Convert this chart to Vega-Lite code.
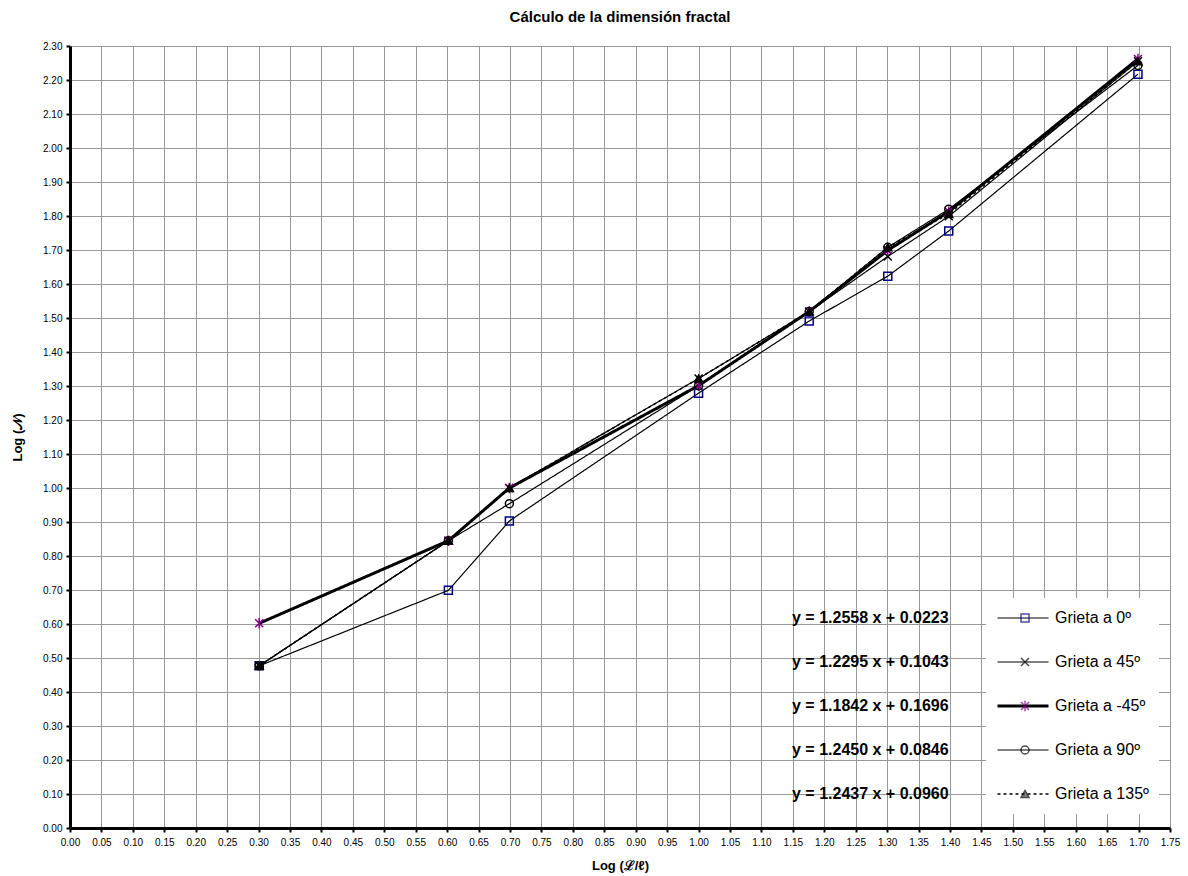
{
  "$schema": "https://vega.github.io/schema/vega-lite/v6.json",
  "width": 1100,
  "height": 782,
  "autosize": "none",
  "padding": {"left": 70, "top": 46, "right": 18, "bottom": 48},
  "background": "white",
  "title": {"text": "Cálculo de la dimensión fractal", "font": "Liberation Sans", "fontSize": 15, "fontWeight": "bold", "color": "black", "anchor": "middle", "offset": 1, "baseline": "bottom"},
  "config": {
    "view": {"stroke": "#999999", "strokeWidth": 1},
    "font": "Liberation Sans",
    "axis": {"labelFont": "Liberation Sans", "labelFontSize": 10, "labelColor": "black", "domainColor": "black", "domainWidth": 3, "tickColor": "black", "tickWidth": 2, "tickSize": 4, "gridColor": "#999999", "gridWidth": 1, "titleFont": "Liberation Sans", "titleFontSize": 13, "titleFontWeight": "bold", "titleColor": "black", "labelOverlap": false, "labelFlush": false}
  },
  "data": {"values": [
    {"serie": "Grieta a 0º", "orden": 1, "x": 0.301, "y": 0.477},
    {"serie": "Grieta a 0º", "orden": 1, "x": 0.602, "y": 0.699},
    {"serie": "Grieta a 0º", "orden": 1, "x": 0.699, "y": 0.903},
    {"serie": "Grieta a 0º", "orden": 1, "x": 1.0, "y": 1.279},
    {"serie": "Grieta a 0º", "orden": 1, "x": 1.176, "y": 1.491},
    {"serie": "Grieta a 0º", "orden": 1, "x": 1.301, "y": 1.623},
    {"serie": "Grieta a 0º", "orden": 1, "x": 1.398, "y": 1.756},
    {"serie": "Grieta a 0º", "orden": 1, "x": 1.699, "y": 2.217},
    {"serie": "Grieta a 45º", "orden": 2, "x": 0.301, "y": 0.477},
    {"serie": "Grieta a 45º", "orden": 2, "x": 0.602, "y": 0.845},
    {"serie": "Grieta a 45º", "orden": 2, "x": 0.699, "y": 1.0},
    {"serie": "Grieta a 45º", "orden": 2, "x": 1.0, "y": 1.322},
    {"serie": "Grieta a 45º", "orden": 2, "x": 1.176, "y": 1.519},
    {"serie": "Grieta a 45º", "orden": 2, "x": 1.301, "y": 1.681},
    {"serie": "Grieta a 45º", "orden": 2, "x": 1.398, "y": 1.799},
    {"serie": "Grieta a 45º", "orden": 2, "x": 1.699, "y": 2.255},
    {"serie": "Grieta a -45º", "orden": 3, "x": 0.301, "y": 0.602},
    {"serie": "Grieta a -45º", "orden": 3, "x": 0.602, "y": 0.845},
    {"serie": "Grieta a -45º", "orden": 3, "x": 0.699, "y": 1.0},
    {"serie": "Grieta a -45º", "orden": 3, "x": 1.0, "y": 1.301},
    {"serie": "Grieta a -45º", "orden": 3, "x": 1.176, "y": 1.519},
    {"serie": "Grieta a -45º", "orden": 3, "x": 1.301, "y": 1.699},
    {"serie": "Grieta a -45º", "orden": 3, "x": 1.398, "y": 1.813},
    {"serie": "Grieta a -45º", "orden": 3, "x": 1.699, "y": 2.262},
    {"serie": "Grieta a 90º", "orden": 4, "x": 0.301, "y": 0.477},
    {"serie": "Grieta a 90º", "orden": 4, "x": 0.602, "y": 0.845},
    {"serie": "Grieta a 90º", "orden": 4, "x": 0.699, "y": 0.954},
    {"serie": "Grieta a 90º", "orden": 4, "x": 1.0, "y": 1.301},
    {"serie": "Grieta a 90º", "orden": 4, "x": 1.176, "y": 1.519},
    {"serie": "Grieta a 90º", "orden": 4, "x": 1.301, "y": 1.708},
    {"serie": "Grieta a 90º", "orden": 4, "x": 1.398, "y": 1.820},
    {"serie": "Grieta a 90º", "orden": 4, "x": 1.699, "y": 2.243},
    {"serie": "Grieta a 135º", "orden": 5, "x": 0.301, "y": 0.477},
    {"serie": "Grieta a 135º", "orden": 5, "x": 0.602, "y": 0.845},
    {"serie": "Grieta a 135º", "orden": 5, "x": 0.699, "y": 1.0},
    {"serie": "Grieta a 135º", "orden": 5, "x": 1.0, "y": 1.322},
    {"serie": "Grieta a 135º", "orden": 5, "x": 1.176, "y": 1.519},
    {"serie": "Grieta a 135º", "orden": 5, "x": 1.301, "y": 1.708},
    {"serie": "Grieta a 135º", "orden": 5, "x": 1.398, "y": 1.806},
    {"serie": "Grieta a 135º", "orden": 5, "x": 1.699, "y": 2.255}
  ]},
  "encoding": {
    "x": {"field": "x", "type": "quantitative", "scale": {"domain": [0, 1.75], "nice": false, "zero": false},
          "axis": {"title": "Log (ℒ/ℓ)", "values": [0,0.05,0.1,0.15,0.2,0.25,0.3,0.35,0.4,0.45,0.5,0.55,0.6,0.65,0.7,0.75,0.8,0.85,0.9,0.95,1,1.05,1.1,1.15,1.2,1.25,1.3,1.35,1.4,1.45,1.5,1.55,1.6,1.65,1.7,1.75], "format": ".2f", "labelPadding": 5, "titlePadding": 12}},
    "y": {"field": "y", "type": "quantitative", "scale": {"domain": [0, 2.3], "nice": false, "zero": false},
          "axis": {"title": "Log (𝒩)", "values": [0,0.1,0.2,0.3,0.4,0.5,0.6,0.7,0.8,0.9,1,1.1,1.2,1.3,1.4,1.5,1.6,1.7,1.8,1.9,2,2.1,2.2,2.3], "format": ".2f", "labelPadding": 4, "titlePadding": 18}}
  },
  "layer": [
    {
      "mark": {"type": "line", "color": "black"},
      "encoding": {
        "strokeDash": {"field": "serie", "type": "nominal",
          "scale": {"domain": ["Grieta a 0º", "Grieta a 45º", "Grieta a -45º", "Grieta a 90º", "Grieta a 135º"], "range": [[1,0],[1,0],[1,0],[1,0],[3,3]]},
          "legend": {"title": null, "orient": "none", "legendX": 916, "legendY": 552, "padding": 10, "fillColor": "white", "symbolType": "stroke", "symbolSize": 2601, "symbolStrokeColor": "black", "symbolOpacity": 1, "clipHeight": 20, "rowPadding": 24, "labelFont": "Liberation Sans", "labelFontSize": 16, "labelColor": "black", "labelOffset": 5, "labelLimit": 300, "zindex": 1}},
        "strokeWidth": {"field": "serie", "type": "nominal",
          "scale": {"type": "ordinal", "domain": ["Grieta a 0º", "Grieta a 45º", "Grieta a -45º", "Grieta a 90º", "Grieta a 135º"], "range": [1.2, 1.2, 3, 1.2, 1.5]},
          "legend": {"title": null, "orient": "none", "legendX": 916, "legendY": 552, "padding": 10, "fillColor": "white", "symbolType": "stroke", "symbolSize": 2601, "symbolStrokeColor": "black", "symbolOpacity": 1, "clipHeight": 20, "rowPadding": 24, "labelFont": "Liberation Sans", "labelFontSize": 16, "labelColor": "black", "labelOffset": 5, "labelLimit": 300, "zindex": 1}}
      }
    },
    {
      "mark": {"type": "point", "filled": false, "size": 64, "strokeWidth": 1.5},
      "encoding": {
        "shape": {"field": "serie", "type": "nominal", "sort": {"field": "orden", "op": "min"},
          "scale": {"range": ["square", "M-1,-1L1,1M-1,1L1,-1", "M-1,-1L1,1M-1,1L1,-1M0,-1.3L0,1.3", "circle", "triangle-up"]},
          "legend": {"title": null, "orient": "none", "legendX": 947, "legendY": 562, "padding": 0, "symbolSize": 64, "symbolStrokeWidth": 1.5, "clipHeight": 20, "rowPadding": 24, "labelFontSize": 16, "labelExpr": "''", "zindex": 2}},
        "color": {"field": "serie", "type": "nominal", "sort": {"field": "orden", "op": "min"},
          "scale": {"range": ["#000080", "black", "#800080", "black", "black"]},
          "legend": {"title": null, "orient": "none", "legendX": 947, "legendY": 562, "padding": 0, "symbolSize": 64, "symbolStrokeWidth": 1.5, "clipHeight": 20, "rowPadding": 24, "labelFontSize": 16, "labelExpr": "''", "zindex": 2}},
        "fill": {"field": "serie", "type": "nominal", "sort": {"field": "orden", "op": "min"},
          "scale": {"range": ["transparent", "transparent", "transparent", "transparent", "black"]},
          "legend": {"title": null, "orient": "none", "legendX": 947, "legendY": 562, "padding": 0, "symbolSize": 64, "symbolStrokeWidth": 1.5, "clipHeight": 20, "rowPadding": 24, "labelFontSize": 16, "labelExpr": "''", "zindex": 2}},
        "opacity": {"field": "serie", "type": "nominal", "sort": {"field": "orden", "op": "max"},
          "scale": {"type": "ordinal", "range": [1, 1, 1, 1, 1]},
          "legend": {"title": null, "orient": "none", "legendX": 706, "legendY": 562, "padding": 0, "symbolSize": 0, "symbolStrokeWidth": 0, "symbolOpacity": 0, "clipHeight": 20, "rowPadding": 24, "labelFont": "Liberation Sans", "labelFontSize": 16, "labelFontWeight": "bold", "labelColor": "black", "labelOffset": 0, "labelLimit": 300, "zindex": 2,
            "labelExpr": "{'Grieta a 0º': 'y = 1.2558 x + 0.0223', 'Grieta a 45º': 'y = 1.2295 x + 0.1043', 'Grieta a -45º': 'y = 1.1842 x + 0.1696', 'Grieta a 90º': 'y = 1.2450 x + 0.0846', 'Grieta a 135º': 'y = 1.2437 x + 0.0960'}[datum.label]"}}
      }
    }
  ]
}
